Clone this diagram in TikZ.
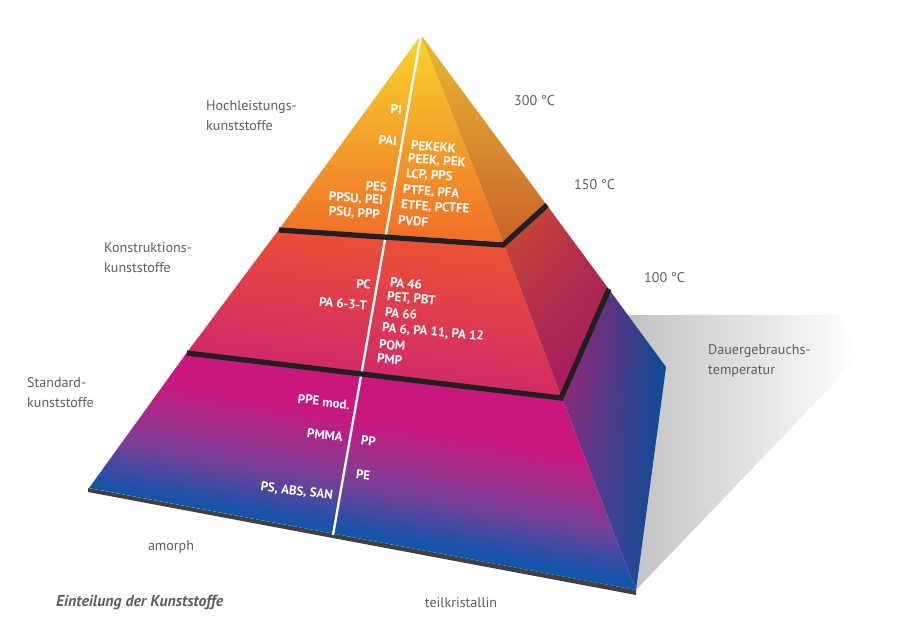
\documentclass[tikz,border=0pt]{standalone}
\usepackage{fontspec}
\setmainfont{PT Sans}
\usetikzlibrary{shadings}
\definecolor{grautext}{HTML}{5A5F64}
\definecolor{stufe}{HTML}{231F20}
\definecolor{gelb}{HTML}{F7D52B}
\definecolor{orangemitte}{HTML}{F2A22E}
\definecolor{orangeunten}{HTML}{F06E28}
\definecolor{ockeroben}{HTML}{E9B832}
\definecolor{ockerunten}{HTML}{C8642A}
\definecolor{rotoben}{HTML}{F05A2A}
\definecolor{rotlinks}{HTML}{E84A38}
\definecolor{pinklinks}{HTML}{C81E7C}
\definecolor{pinkrechts}{HTML}{D22A66}
\definecolor{rostoben}{HTML}{CC4E2C}
\definecolor{rostrechts}{HTML}{B42E4C}
\definecolor{weinlinks}{HTML}{A81E5E}
\definecolor{weinrechts}{HTML}{9E1A64}
\definecolor{magenta}{HTML}{C8187E}
\definecolor{lila}{HTML}{7C3E96}
\definecolor{blau}{HTML}{1454AA}
\definecolor{lilaoben}{HTML}{A81E6A}
\definecolor{lilaunten}{HTML}{5E3E96}
\definecolor{blaudunkel}{HTML}{0A4C96}
\pgfdeclareverticalshading{stufeunten}{100bp}{color(0bp)=(blau); color(39bp)=(blau); color(48bp)=(lila); color(59bp)=(magenta); color(100bp)=(magenta)}
\tikzset{
	etikett/.style={text=grautext, font=\fontsize{12}{17}\selectfont, align=left, inner sep=0pt},
	sorte/.style={text=white, font=\fontsize{11}{13}\selectfont\bfseries, inner sep=0pt},
}
\begin{document}
\begin{tikzpicture}[x=0.03cm,y=-0.03cm]
	\useasboundingbox (0,0) rectangle (908,640);
	% Eckpunkte der Pyramide
	\coordinate (spitze) at (421,35);
	\coordinate (vl) at (89,488);
	\coordinate (vr) at (636,590);
	\coordinate (hr) at (666,367);
	\coordinate (l1) at (280,228);
	\coordinate (r1) at (503,242);
	\coordinate (h1) at (546,204);
	\coordinate (l2) at (188,351);
	\coordinate (r2) at (561,396);
	\coordinate (h2) at (608,288);
	% Schatten
	\shade [left color=black!24, right color=white] (628,315) -- (840,315) -- (858,358) -- (vr) -- cycle;
	\fill [color=black!75] (88,488) -- (636,590) -- (636,595) -- (88,492) -- cycle;
	% obere Stufe
	\shade [top color=gelb, middle color=orangemitte, bottom color=orangeunten] (spitze) -- (l1) -- (r1) -- cycle;
	\shade [top color=ockeroben, bottom color=ockerunten] (spitze) -- (r1) -- (h1) -- cycle;
	% mittlere Stufe
	\shade [upper left=rotlinks, upper right=rotoben, lower left=pinklinks, lower right=pinkrechts] (l1) -- (l2) -- (r2) -- (r1) -- cycle;
	\shade [upper left=rostoben, upper right=rostrechts, lower left=weinlinks, lower right=weinrechts] (r1) -- (r2) -- (h2) -- (h1) -- cycle;
	% untere Stufe
	\shade [shading=stufeunten, shading angle=-10] (l2) -- (vl) -- (vr) -- (r2) -- cycle;
	\shade [upper left=lilaoben, upper right=blaudunkel, lower left=lilaunten, lower right=blaudunkel] (r2) -- (vr) -- (hr) -- (h2) -- cycle;
	% Trennlinie amorph / teilkristallin
	\draw [color=white, line width=2pt] (spitze) -- (333,535);
	% Stufenkanten
	\draw [color=stufe, line width=4.5pt, line join=miter] (279,230) -- (503,245) -- (547,205);
	\draw [color=stufe, line width=4.5pt, line join=miter] (187,353) -- (561,398) -- (609,289);
	% Kunststoffe oben
	\node[sorte, anchor=east, rotate=-4] (pi) at (402,110) {PI};
	\node[sorte, anchor=east, rotate=-4] (pai) at (397,141) {PAI};
	\node[sorte, anchor=east, rotate=-4] (pes) at (387,187) {PES};
	\node[sorte, anchor=east, rotate=-4] (ppsu) at (383,201) {PPSU, PEI};
	\node[sorte, anchor=east, rotate=-4] (psu) at (380,215) {PSU, PPP};
	\node[sorte, anchor=west, rotate=-4] (pekekk) at (411,145) {PEKEKK};
	\node[sorte, anchor=west, rotate=-4] (peek) at (408,159) {PEEK, PEK};
	\node[sorte, anchor=west, rotate=-4] (lcp) at (406,174) {LCP, PPS};
	\node[sorte, anchor=west, rotate=-4] (ptfe) at (403,190) {PTFE, PFA};
	\node[sorte, anchor=west, rotate=-4] (etfe) at (401,205) {ETFE, PCTFE};
	\node[sorte, anchor=west, rotate=-4] (pvdf) at (398,220) {PVDF};
	% Kunststoffe Mitte
	\node[sorte, anchor=east, rotate=-5] (pc) at (371,285) {PC};
	\node[sorte, anchor=east, rotate=-5] (pa63t) at (367,306) {PA 6-3-T};
	\node[sorte, anchor=west, rotate=-5] (pa46) at (390,282) {PA 46};
	\node[sorte, anchor=west, rotate=-5] (pet) at (387,297) {PET, PBT};
	\node[sorte, anchor=west, rotate=-5] (pa66) at (385,312) {PA 66};
	\node[sorte, anchor=west, rotate=-5] (pa6) at (382,328) {PA 6, PA 11, PA 12};
	\node[sorte, anchor=west, rotate=-5] (pom) at (379,344) {POM};
	\node[sorte, anchor=west, rotate=-5] (pmp) at (377,358) {PMP};
	% Kunststoffe unten
	\node[sorte, anchor=east, rotate=-7] (ppe) at (350,405) {PPE mod.};
	\node[sorte, anchor=east, rotate=-7] (pmma) at (343,437) {PMMA};
	\node[sorte, anchor=east, rotate=-7] (ps) at (333,496) {PS, ABS, SAN};
	\node[sorte, anchor=west, rotate=-7] (pp) at (361,440) {PP};
	\node[sorte, anchor=west, rotate=-7] (pe) at (356,474) {PE};
	% Beschriftung
	\node[etikett, anchor=west] (hochleistung) at (206,116) {Hochleistungs-\\kunststoffe};
	\node[etikett, anchor=west] (konstruktion) at (104,258) {Konstruktions-\\kunststoffe};
	\node[etikett, anchor=west] (standard) at (27,393) {Standard-\\kunststoffe};
	\node[etikett, anchor=west] (dauer) at (708,361) {Dauergebrauchs-\\temperatur};
	\node[etikett, anchor=west] (t300) at (514,101) {300 °C};
	\node[etikett, anchor=west] (t150) at (574,185) {150 °C};
	\node[etikett, anchor=west] (t100) at (644,278) {100 °C};
	\node[etikett] (amorph) at (171,547) {amorph};
	\node[etikett] (teilkristallin) at (461,603) {teilkristallin};
	\node[etikett, anchor=west, font=\fontsize{13.5}{17}\selectfont\bfseries\itshape] (titel) at (56,603) {Einteilung der Kunststoffe};
\end{tikzpicture}
\end{document}
